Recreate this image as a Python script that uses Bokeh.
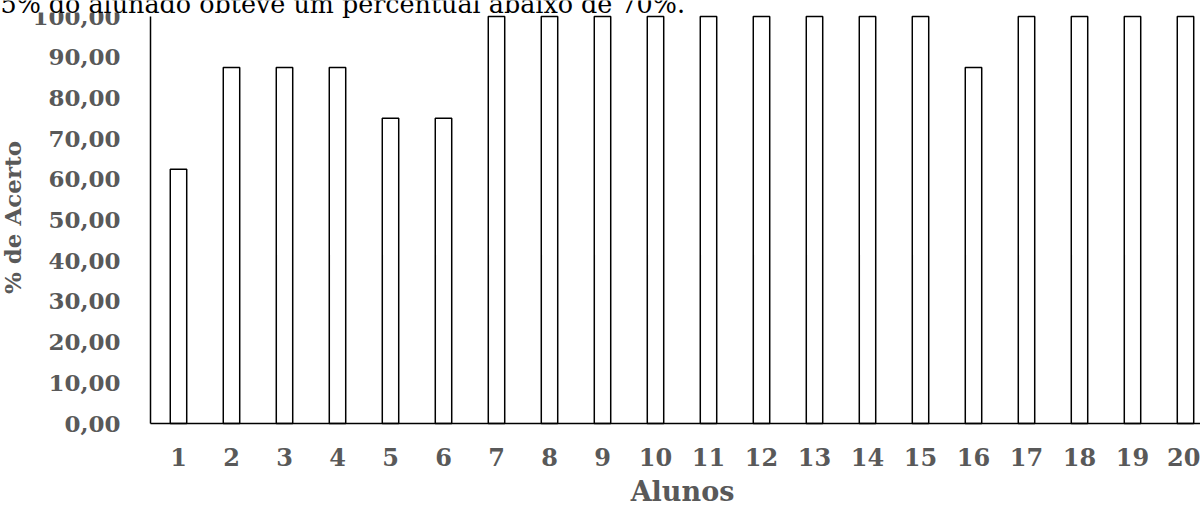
from bokeh.plotting import figure
from bokeh.models import Range1d, FixedTicker, Label, BoxAnnotation
from bokeh.embed import file_html
from bokeh.resources import INLINE
import math

# ---- data ----
alunos = list(range(1, 21))
acerto = [62.5, 87.5, 87.5, 87.5, 75.0, 75.0, 100.0, 100.0, 100.0, 100.0,
          100.0, 100.0, 100.0, 100.0, 100.0, 87.5, 100.0, 100.0, 100.0, 100.0]
y_ticks = [0, 10, 20, 30, 40, 50, 60, 70, 80, 90, 100]
y_tick_labels = ["0,00", "10,00", "20,00", "30,00", "40,00", "50,00",
                 "60,00", "70,00", "80,00", "90,00", "100,00"]
x_tick_labels = [str(a) for a in alunos]
texto_topo = "5% do alunado obteve um percentual abaixo de 70%."
titulo_x = "Alunos"
titulo_y = "% de Acerto"

# ---- layout (pixels of the 1200x505 canvas) ----
W, H = 1200, 505
AXIS_X_PX, AXIS_Y_PX = 150, 423     # y-axis column, x-axis row
px_per_unit_y = 4.07
px_per_unit_x = 53.0
x_axis_start = 1 - 28 / px_per_unit_x


def dx(px):
    return x_axis_start + (px - AXIS_X_PX) / px_per_unit_x


def dy(py):
    return (AXIS_Y_PX - py) / px_per_unit_y


TICK_GRAY = "#595959"
SERIF = "DejaVu Serif"

p = figure(width=W, height=H, output_backend="svg", toolbar_location=None,
           x_range=Range1d(dx(0), dx(W)), y_range=Range1d(dy(H), dy(0)),
           min_border=0, min_border_left=0, min_border_right=0,
           min_border_top=0, min_border_bottom=0)
p.outline_line_color = None
p.xgrid.visible = False
p.ygrid.visible = False
p.background_fill_color = "white"
p.border_fill_color = "white"

p.vbar(x=alunos, top=acerto, width=0.31, fill_color="white",
       line_color="black", line_width=1.5)

# axes placed at the chart's origin
p.xaxis.fixed_location = 0
p.yaxis.fixed_location = x_axis_start
p.xaxis.bounds = (x_axis_start, dx(W))
p.yaxis.bounds = (0, 100)
p.xaxis.ticker = FixedTicker(ticks=alunos)
p.xaxis.major_label_overrides = {a: l for a, l in zip(alunos, x_tick_labels)}
p.yaxis.ticker = FixedTicker(ticks=y_ticks)
p.yaxis.major_label_overrides = {t: l for t, l in zip(y_ticks, y_tick_labels)}
for ax in (p.xaxis, p.yaxis):
    ax.axis_line_color = "black"
    ax.axis_line_width = 1.5
    ax.major_tick_line_color = None
    ax.minor_tick_line_color = None
    ax.major_tick_out = 0
    ax.major_tick_in = 0
    ax.major_label_text_color = TICK_GRAY
    ax.major_label_text_font = SERIF
    ax.major_label_text_font_style = "bold"
p.xaxis.major_label_text_font_size = "24px"
p.yaxis.major_label_text_font_size = "23px"
p.xaxis.major_label_standoff = 24
p.yaxis.major_label_standoff = 30

# the sentence above the chart hides the top of the first tick label
p.add_layout(BoxAnnotation(left=dx(0), right=dx(146), top=dy(0), bottom=dy(12),
                           fill_color="white", fill_alpha=1.0,
                           line_color=None, level="overlay"))

# titles
p.add_layout(Label(x=682, y=491, x_units="canvas", y_units="canvas",
                   text=titulo_x, text_align="center",
                   text_baseline="middle", text_font=SERIF,
                   text_font_style="bold", text_font_size="27px",
                   text_color=TICK_GRAY))
p.add_layout(Label(x=12, y=217, x_units="canvas", y_units="canvas",
                   text=titulo_y, angle=math.pi / 2,
                   text_align="center", text_baseline="middle",
                   text_font=SERIF, text_font_style="bold",
                   text_font_size="23px", text_color=TICK_GRAY))
p.add_layout(Label(x=0, y=3, x_units="canvas", y_units="canvas",
                   text=texto_topo, text_align="left",
                   text_baseline="middle", text_font=SERIF,
                   text_font_size="25.4px", text_color="black",
                   level="overlay"))

open("out.html", "w").write(file_html(p, INLINE))
